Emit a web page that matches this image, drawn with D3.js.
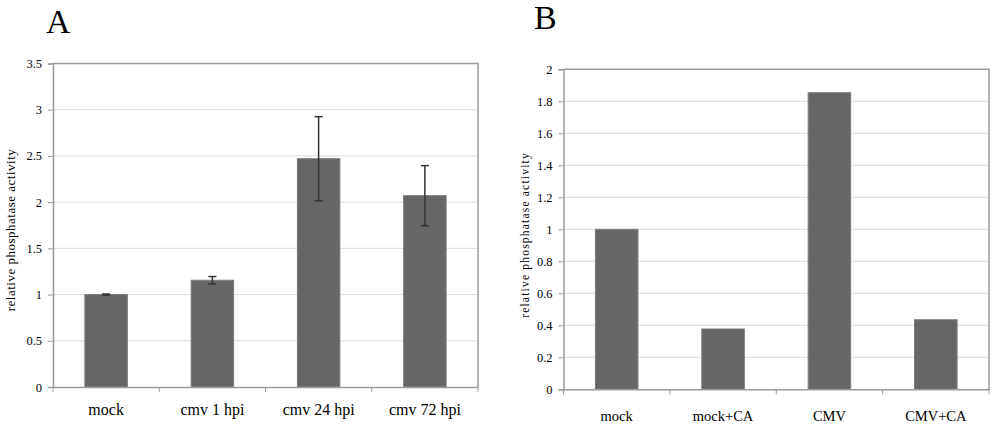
<!DOCTYPE html>
<html><head><meta charset="utf-8">
<script src="https://cdn.jsdelivr.net/npm/d3@7"></script>
<style>body{margin:0;background:#fff}svg{display:block}svg text{font-family:"Liberation Serif","Times New Roman",serif !important;fill:#000}</style>
</head><body>
<svg id="c" width="996" height="429"></svg>
<script>
const catsA = ["mock", "cmv 1 hpi", "cmv 24 hpi", "cmv 72 hpi"];
const valsA = [1.0, 1.155, 2.47, 2.07];
const errA = [0.006, 0.04, 0.455, 0.325];
const ticksA = [0, 0.5, 1, 1.5, 2, 2.5, 3, 3.5];

const catsB = ["mock", "mock+CA", "CMV", "CMV+CA"];
const valsB = [1.0, 0.377, 1.854, 0.435];
const ticksB = [0, 0.2, 0.4, 0.6, 0.8, 1, 1.2, 1.4, 1.6, 1.8, 2];

const svg = d3.select("#c");
const SERIF = "'Liberation Serif', 'Times New Roman', serif";

function panel(o) {
  const g = svg.append("g");
  const x = d3.scaleBand().domain(o.cats).range([o.left, o.right]).paddingInner(0.6).paddingOuter(0.3);
  const xb = d3.scaleBand().domain(o.cats).range([o.left, o.right]);
  const y = d3.scaleLinear().domain([0, o.max]).range([o.bottom, o.top]);
  g.selectAll(".grid").data(o.ticks.filter(t => t > 0 && t < o.max)).join("line")
    .attr("x1", o.left).attr("x2", o.right)
    .attr("y1", d => y(d)).attr("y2", d => y(d))
    .attr("stroke", "#dcdcdc").attr("stroke-width", 1);
  g.append("path").attr("d", `M${o.left},${o.top}H${o.right}V${o.bottom}`)
    .attr("fill", "none").attr("stroke", "#9a9a9a").attr("stroke-width", 1.5);
  g.selectAll(".bar").data(o.vals).join("rect")
    .attr("x", (d, i) => x(o.cats[i])).attr("width", x.bandwidth())
    .attr("y", d => y(d)).attr("height", d => o.bottom - y(d))
    .attr("fill", "#666666").attr("stroke", "#7d7d7d").attr("stroke-width", 1);
  if (o.err) {
    const eb = g.selectAll(".err").data(o.vals).join("g");
    eb.append("line").attr("x1", (d, i) => x(o.cats[i]) + x.bandwidth() / 2)
      .attr("x2", (d, i) => x(o.cats[i]) + x.bandwidth() / 2)
      .attr("y1", (d, i) => y(d + o.err[i])).attr("y2", (d, i) => y(d - o.err[i]))
      .attr("stroke", "#333").attr("stroke-width", 1.5);
    [1, -1].forEach(s => {
      eb.append("line").attr("x1", (d, i) => x(o.cats[i]) + x.bandwidth() / 2 - 4)
        .attr("x2", (d, i) => x(o.cats[i]) + x.bandwidth() / 2 + 4)
        .attr("y1", (d, i) => y(d + s * o.err[i])).attr("y2", (d, i) => y(d + s * o.err[i]))
        .attr("stroke", "#333").attr("stroke-width", 1.5);
    });
  }
  const ya = d3.axisLeft(y).tickValues(o.ticks).tickSize(5).tickPadding(6).tickFormat(d => String(d));
  const yg = g.append("g").attr("transform", `translate(${o.left},0)`).call(ya)
    .attr("font-family", SERIF).attr("font-size", 12);
  yg.select(".domain").attr("stroke", "#9a9a9a").attr("stroke-width", 1.5);
  yg.selectAll(".tick line").attr("stroke", "#9a9a9a");
  yg.selectAll("text").style("font-family", SERIF).style("font-size", "12.5px").attr("fill", "#000");
  const xa = d3.axisBottom(xb).tickSize(0).tickPadding(o.xpad);
  const xg = g.append("g").attr("transform", `translate(0,${o.bottom})`).call(xa)
    .attr("font-family", SERIF).attr("font-size", o.xfs);
  xg.select(".domain").attr("stroke", "#9a9a9a").attr("stroke-width", 1.5);
  xg.selectAll("text").style("font-family", SERIF).style("font-size", o.xfs + "px").attr("fill", "#000");
  g.selectAll(".xt").data([...o.cats.map(c => xb(c)), o.right]).join("line")
    .attr("x1", d => d).attr("x2", d => d).attr("y1", o.bottom).attr("y2", o.bottom + 5)
    .attr("stroke", "#9a9a9a").attr("stroke-width", 1);
  g.append("text").attr("transform", `translate(${o.tx},${o.ty}) rotate(-90)`)
    .attr("text-anchor", "middle").style("font-size", o.tfs + "px").attr("letter-spacing", o.ls)
    .text("relative phosphatase activity");
  g.append("text").attr("x", o.lx).attr("y", o.ly).style("font-size", "34px").text(o.letter);
}

panel({cats: catsA, vals: valsA, err: errA, ticks: ticksA, max: 3.5,
  left: 53, right: 478, top: 63.5, bottom: 387, xpad: 17, xfs: 16, tfs: 13,
  tx: 15, ty: 230, ls: 0.5, lx: 46, ly: 33, letter: "A"});
panel({cats: catsB, vals: valsB, ticks: ticksB, max: 2,
  left: 563.5, right: 989, top: 69.3, bottom: 389.3, xpad: 21, xfs: 14.5, tfs: 11.5,
  tx: 529, ty: 235, ls: 1.2, lx: 534, ly: 29, letter: "B"});
</script>
</body></html>
